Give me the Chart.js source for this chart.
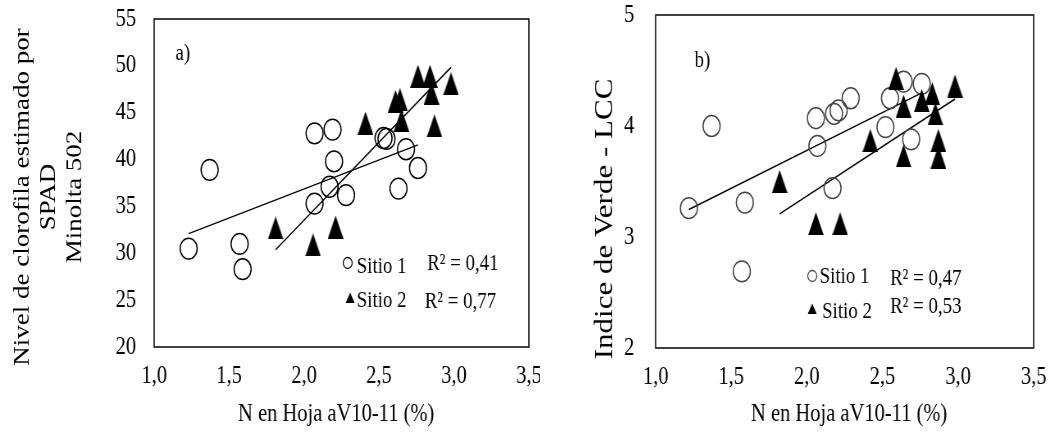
<!DOCTYPE html>
<html lang="es">
<head>
<meta charset="utf-8">
<title>SPAD y LCC frente a N foliar</title>
<script src="https://cdn.jsdelivr.net/npm/chart.js@4.4.1/dist/chart.umd.min.js"></script>
<style>
  html, body { margin: 0; padding: 0; background: #fff; }
  body { position: relative; width: 1052px; height: 436px; overflow: hidden; }
  /* la figura original está comprimida en horizontal */
  canvas { position: absolute; top: 0; transform-origin: 0 0; transform: scaleX(0.82); }
  #chartSpad { left: 0; }
  #chartLcc { left: 540px; }
</style>
</head>
<body>
<canvas id="chartSpad" width="659" height="436"></canvas>
<canvas id="chartLcc" width="624" height="436"></canvas>
<script>
// Ejes
const xTicks = [1.0, 1.5, 2.0, 2.5, 3.0, 3.5];
const spadTicks = [20, 25, 30, 35, 40, 45, 50, 55];
const lccTicks = [2, 3, 4, 5];

// a) SPAD
const spadSitio1N = [1.23, 1.37, 1.57, 1.59, 2.07, 2.19, 2.20, 2.17, 2.28, 2.07, 2.53, 2.55, 2.68, 2.76, 2.63];
const spadSitio1Y = [30.5, 38.9, 31.0, 28.3, 42.8, 43.2, 39.8, 37.1, 36.2, 35.3, 42.3, 42.2, 41.1, 39.1, 36.9];
const spadSitio2N = [1.81, 2.06, 2.21, 2.41, 2.61, 2.64, 2.65, 2.76, 2.84, 2.85, 2.87, 2.98];
const spadSitio2Y = [32.7, 30.9, 32.8, 43.9, 46.2, 46.4, 44.2, 48.9, 48.9, 47.1, 43.6, 48.1];

// b) LCC
const lccSitio1N = [1.37, 2.06, 2.18, 2.21, 2.29, 2.07, 2.55, 2.64, 2.76, 2.52, 2.69, 2.17, 1.22, 1.59, 1.57];
const lccSitio1Y = [4.00, 4.07, 4.11, 4.14, 4.25, 3.82, 4.25, 4.40, 4.38, 3.99, 3.88, 3.44, 3.26, 3.31, 2.69];
const lccSitio2N = [1.82, 2.42, 2.59, 2.64, 2.76, 2.83, 2.85, 2.98, 2.64, 2.87, 2.87, 2.06, 2.22];
const lccSitio2Y = [3.50, 3.87, 4.43, 4.18, 4.23, 4.29, 4.11, 4.36, 3.73, 3.87, 3.72, 3.12, 3.12];

const r2Spad = ['R\u00b2 = 0,41', 'R\u00b2 = 0,77'];
const r2Lcc = ['R\u00b2 = 0,47', 'R\u00b2 = 0,53'];

const FONT = "'Liberation Serif', 'Times New Roman', serif";

// recta de mínimos cuadrados entre el mínimo y el máximo de N
function trendLine(xs, ys) {
    const n = xs.length;
    const mx = xs.reduce((a, b) => a + b, 0) / n;
    const my = ys.reduce((a, b) => a + b, 0) / n;
    let sxy = 0, sxx = 0;
    xs.forEach((x, i) => {
        sxy += (x - mx) * (ys[i] - my);
        sxx += (x - mx) * (x - mx);
    });
    const b = sxy / sxx;
    const a = my - b * mx;
    const x0 = Math.min(...xs), x1 = Math.max(...xs);
    return [{ x: x0, y: a + b * x0 }, { x: x1, y: a + b * x1 }];
}

function toPoints(xs, ys) {
    return xs.map((x, i) => ({ x: x, y: ys[i] }));
}

// triángulo negro algo más alto que equilátero
function triangleImage(w, h) {
    const c = document.createElement('canvas');
    c.width = w;
    c.height = h;
    const g = c.getContext('2d');
    g.fillStyle = '#000';
    g.beginPath();
    g.moveTo(w / 2, 0);
    g.lineTo(w, h);
    g.lineTo(0, h);
    g.closePath();
    g.fill();
    return c;
}
const triangle = triangleImage(19, 23);

// marco, títulos, letra del panel y leyenda interior
const figureDecor = {
    id: 'figureDecor',
    beforeDatasetsDraw(chart, args, o) {
        const a = chart.chartArea;
        const ctx = chart.ctx;
        ctx.save();
        ctx.strokeStyle = '#111';
        ctx.lineWidth = 1.6;
        ctx.strokeRect(a.left, a.top, a.right - a.left, a.bottom - a.top);
        ctx.restore();
    },
    afterDraw(chart, args, o) {
        const ctx = chart.ctx;
        ctx.save();
        ctx.fillStyle = '#000';
        ctx.textBaseline = 'alphabetic';

        ctx.font = '23px ' + FONT;
        ctx.textAlign = 'center';
        ctx.fillText(o.panel, o.panelX, o.panelY);

        ctx.font = '25px ' + FONT;
        ctx.fillText(o.xTitle, o.xTitleX, o.xTitleY);

        ctx.font = o.yTitleSize + 'px ' + FONT;
        o.yTitle.forEach((line, i) => {
            ctx.save();
            ctx.translate(o.yTitleX[i], o.yTitleY);
            ctx.rotate(-Math.PI / 2);
            ctx.fillText(line, 0, 0);
            ctx.restore();
        });

        ctx.textAlign = 'left';
        ctx.font = '23px ' + FONT;
        o.legend.forEach(row => {
            if (row.marker === 'circle') {
                ctx.strokeStyle = row.color;
                ctx.lineWidth = 1.3;
                ctx.beginPath();
                ctx.arc(row.mx, row.my, 5.5, 0, Math.PI * 2);
                ctx.stroke();
            } else {
                ctx.beginPath();
                ctx.moveTo(row.mx, row.my - 5.5);
                ctx.lineTo(row.mx + 5.5, row.my + 5);
                ctx.lineTo(row.mx - 5.5, row.my + 5);
                ctx.closePath();
                ctx.fill();
            }
            ctx.fillText(row.label, row.lx, row.ly);
            ctx.fillText(row.r2, row.rx, row.ry);
        });
        ctx.restore();
    }
};

function makeChart(canvasId, s) {
    const ctx = document.getElementById(canvasId);
    const tickFont = { family: FONT, size: 25 };

    return new Chart(ctx, {
        type: 'scatter',
        data: {
            datasets: [
                {
                    label: 'Sitio 2',
                    data: toPoints(s.n2, s.y2),
                    pointStyle: triangle,
                    pointRadius: 10
                },
                {
                    label: 'Sitio 1',
                    data: toPoints(s.n1, s.y1),
                    pointStyle: 'circle',
                    pointRadius: 10.4,
                    borderWidth: 1.5,
                    borderColor: s.circleColor,
                    backgroundColor: 'rgba(0,0,0,0)'
                },
                {
                    type: 'line',
                    label: 'Tendencia Sitio 1',
                    data: trendLine(s.n1, s.y1),
                    borderColor: '#000',
                    borderWidth: 1.5,
                    pointRadius: 0
                },
                {
                    type: 'line',
                    label: 'Tendencia Sitio 2',
                    data: trendLine(s.n2, s.y2),
                    borderColor: '#000',
                    borderWidth: 1.5,
                    pointRadius: 0
                }
            ]
        },
        options: {
            responsive: false,
            animation: false,
            devicePixelRatio: 1,
            layout: {
                padding: { left: 0, top: s.top, right: s.padRight, bottom: 0 }
            },
            plugins: {
                legend: { display: false },
                tooltip: { enabled: false },
                figureDecor: s.decor
            },
            scales: {
                x: {
                    type: 'linear',
                    min: 1,
                    max: 3.5,
                    afterBuildTicks: sc => { sc.ticks = xTicks.map(v => ({ value: v })); },
                    afterFit: sc => {
                        sc.height = s.xAxisHeight;
                        sc.paddingLeft = 0;
                        sc.paddingRight = 0;
                    },
                    grid: { display: false, drawTicks: false },
                    border: { display: false },
                    ticks: {
                        padding: 14,
                        color: '#000',
                        font: tickFont,
                        maxRotation: 0,
                        callback: v => v.toFixed(1).replace('.', ',')
                    }
                },
                y: {
                    type: 'linear',
                    min: s.yTicks[0],
                    max: s.yTicks[s.yTicks.length - 1],
                    afterBuildTicks: sc => { sc.ticks = s.yTicks.map(v => ({ value: v })); },
                    afterFit: sc => {
                        sc.width = s.yAxisWidth;
                        sc.paddingTop = 0;
                        sc.paddingBottom = 0;
                    },
                    grid: { display: false, drawTicks: false },
                    border: { display: false },
                    ticks: {
                        padding: s.yTickPad,
                        color: '#000',
                        font: tickFont,
                        callback: v => String(v)
                    }
                }
            }
        },
        plugins: [figureDecor]
    });
}

makeChart('chartSpad', {
    n1: spadSitio1N, y1: spadSitio1Y,
    n2: spadSitio2N, y2: spadSitio2Y,
    yTicks: spadTicks,
    circleColor: '#000',
    top: 19,
    padRight: 14,
    xAxisHeight: 89,
    yAxisWidth: 188,
    yTickPad: 22,
    decor: {
        panel: 'a)', panelX: 223, panelY: 60,
        xTitle: 'N en Hoja aV10-11 (%)', xTitleX: 410, xTitleY: 421,
        yTitle: ['Nivel de clorofila estimado por', 'SPAD', 'Minolta 502'],
        yTitleX: [35, 67, 99], yTitleY: 197, yTitleSize: 27,
        legend: [
            { marker: 'circle', color: '#000', mx: 424, my: 263, label: 'Sitio 1', lx: 435, ly: 273, r2: r2Spad[0], rx: 521, ry: 270 },
            { marker: 'triangle', mx: 427, my: 298, label: 'Sitio 2', lx: 435, ly: 307, r2: r2Spad[1], rx: 518, ry: 308 }
        ]
    }
});

makeChart('chartLcc', {
    n1: lccSitio1N, y1: lccSitio1Y,
    n2: lccSitio2N, y2: lccSitio2Y,
    yTicks: lccTicks,
    circleColor: '#444',
    top: 15,
    padRight: 22,
    xAxisHeight: 88,
    yAxisWidth: 141,
    yTickPad: 26,
    decor: {
        panel: 'b)', panelX: 198, panelY: 67,
        xTitle: 'N en Hoja aV10-11 (%)', xTitleX: 377, xTitleY: 421,
        yTitle: ['Indice de Verde - LCC'],
        yTitleX: [88], yTitleY: 219, yTitleSize: 31,
        legend: [
            { marker: 'circle', color: '#444', mx: 332, my: 276, label: 'Sitio 1', lx: 341, ly: 283, r2: r2Lcc[0], rx: 427, ry: 285 },
            { marker: 'triangle', mx: 332, my: 309, label: 'Sitio 2', lx: 344, ly: 318, r2: r2Lcc[1], rx: 427, ry: 313 }
        ]
    }
});
</script>
</body>
</html>
